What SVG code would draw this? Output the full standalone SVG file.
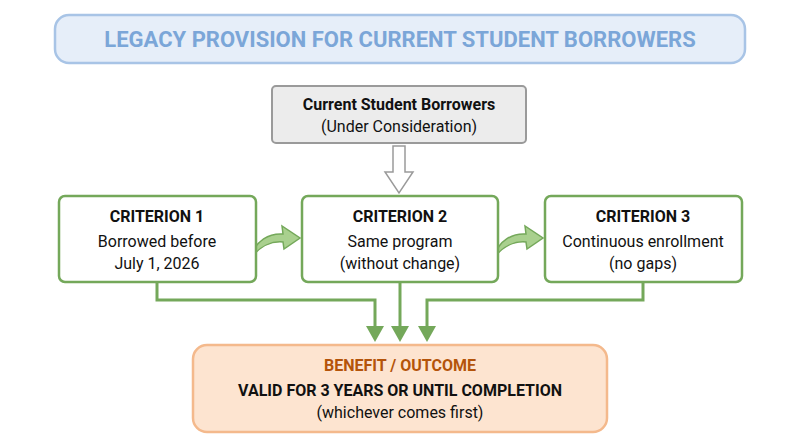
<svg xmlns="http://www.w3.org/2000/svg" width="800" height="447" viewBox="0 0 800 447">
<defs>
<style>
text{font-family:Roboto,"Liberation Sans",sans-serif;text-anchor:middle;fill:#111}
.b{font-weight:bold}
.crit{fill:#fff;stroke:#74a85a;stroke-width:2.5}
.line{fill:none;stroke:#74a85a;stroke-width:3}
.curve{fill:#a9d08e;stroke:#74a85a;stroke-width:1.5}
</style>
<marker id="ah" markerWidth="6" markerHeight="6" refX="3" refY="3" orient="auto" markerUnits="userSpaceOnUse" viewBox="0 0 6 6">
<path d="M0,0 L6,3 L0,6 z" fill="#74a85a"/>
</marker>
</defs>
<rect width="800" height="447" fill="#fff"/>
<g id="title">
<rect x="55" y="15" width="690" height="48" rx="14" fill="#e6eef9" stroke="#a8c4e6" stroke-width="2.5"/>
<text x="400" y="47" class="b" font-size="22" style="fill:#7ba6d8">LEGACY PROVISION FOR CURRENT STUDENT BORROWERS</text>
</g>
<g id="borrowers">
<rect x="272" y="86" width="254" height="57" rx="4" fill="#ececec" stroke="#9a9a9a" stroke-width="2"/>
<text x="399" y="110" class="b" font-size="16">Current Student Borrowers</text>
<text x="399" y="132" font-size="16">(Under Consideration)</text>
</g>
<g id="connectors">
<path d="M393,146 H405 V172 H413 L399,193 L385,172 H393 Z" fill="#fff" stroke="#9a9a9a" stroke-width="1.5"/>
<path class="curve" d="M251,258 C255,240 270,233 283,234 L282,226 L300,238 L284,249 L283,242 C272,241 260,246 251,258 Z"/>
<path class="curve" d="M494,258 C498,240 513,233 526,234 L525,226 L543,238 L527,249 L526,242 C515,241 503,246 494,258 Z"/>
<path class="line" d="M157,282 V300 H375 V330"/>
<path class="line" d="M400,282 V330"/>
<path class="line" d="M643,282 V300 H427 V330"/>
<path d="M366,326 L375,342 L384,326 Z" fill="#74a85a"/>
<path d="M391,326 L400,342 L409,326 Z" fill="#74a85a"/>
<path d="M418,326 L427,342 L436,326 Z" fill="#74a85a"/>
</g>
<g id="criterion1">
<rect class="crit" x="59" y="196" width="197" height="86" rx="6"/>
<text x="157" y="222" class="b" font-size="16">CRITERION 1</text>
<text x="157" y="247" font-size="16">Borrowed before</text>
<text x="157" y="269" font-size="16">July 1, 2026</text>
</g>
<g id="criterion2">
<rect class="crit" x="302" y="196" width="196" height="86" rx="6"/>
<text x="400" y="222" class="b" font-size="16">CRITERION 2</text>
<text x="400" y="247" font-size="16">Same program</text>
<text x="400" y="269" font-size="16">(without change)</text>
</g>
<g id="criterion3">
<rect class="crit" x="545" y="196" width="197" height="86" rx="6"/>
<text x="643" y="222" class="b" font-size="16">CRITERION 3</text>
<text x="643" y="247" font-size="16">Continuous enrollment</text>
<text x="643" y="269" font-size="16">(no gaps)</text>
</g>
<g id="benefit">
<rect x="193" y="345" width="414" height="87" rx="14" fill="#fde4d0" stroke="#f4b98c" stroke-width="2.5"/>
<text x="400" y="371" class="b" font-size="16" style="fill:#b4540a">BENEFIT / OUTCOME</text>
<text x="400" y="396" class="b" font-size="16">VALID FOR 3 YEARS OR UNTIL COMPLETION</text>
<text x="400" y="418" font-size="16">(whichever comes first)</text>
</g>
</svg>
